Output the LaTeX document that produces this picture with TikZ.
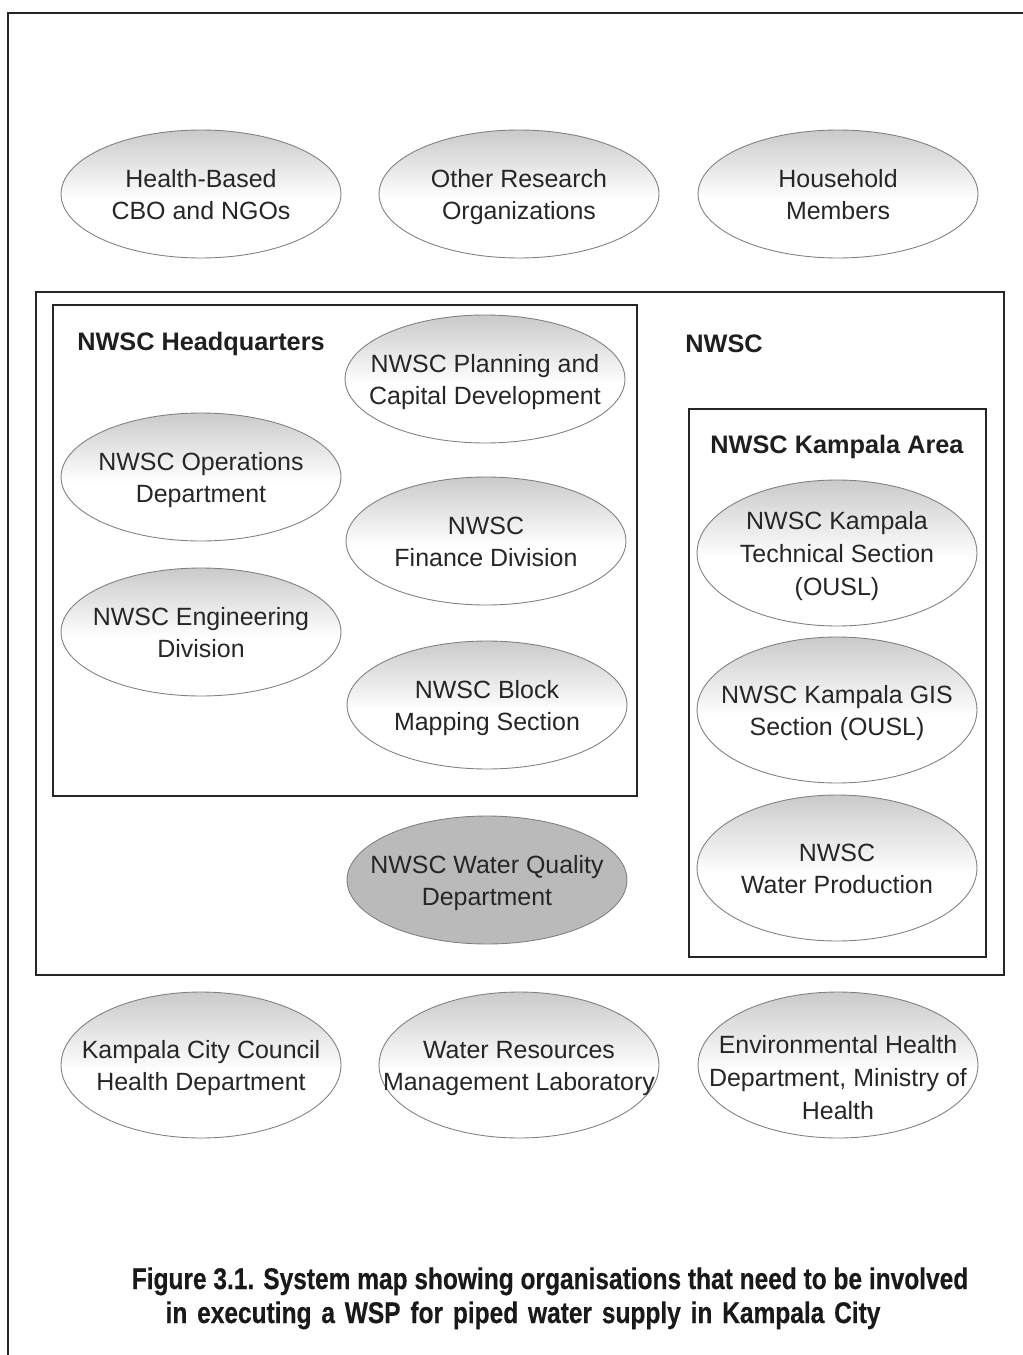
\documentclass[tikz,border=0pt]{standalone}
\usepackage{fontspec}
\setmainfont{Liberation Sans}
\newfontfamily\capfont[FakeStretch=0.82,FakeBold=0.4]{Liberation Sans}
\usetikzlibrary{shapes.geometric}
\pgfdeclareverticalshading{ovalshade}{100bp}{color(0bp)=(white); color(48bp)=(white); color(100bp)=(black!40)}
% text of fixed width, so that wide lines do not widen the oval
\newcommand\orgtext[1]{\makebox[0pt]{\raisebox{-1.7pt}[\height][\depth]{\begin{tabular}{@{}c@{}}#1\end{tabular}}}}
\tikzset{
	ovalbase/.style={ellipse,draw=black!50,line width=0.5pt,minimum width=5.6cm,minimum height=2.56cm,inner sep=0pt,font=\fontsize{14.2}{18.6}\selectfont,text=black!85},
	oval/.style={ovalbase,shading=ovalshade},
	tall/.style={minimum height=2.92cm},
	box/.style={draw=black!85,line width=1.1pt},
	head/.style={font=\fontsize{14.4}{18}\selectfont\bfseries,text=black!88},
	caption/.style={anchor=base,font=\capfont\fontsize{17}{19.3}\selectfont\bfseries,text=black!90},
}
\begin{document}
\begin{tikzpicture}[x=0.02cm,y=-0.02cm]
		\useasboundingbox (0,0) rectangle (1023,1355);
		\draw [line width=1.7pt,black!85] (8,1355) |- (1023,13);
		\draw [box] (36,292) rectangle (1004,975);
		\draw [box] (53,305) rectangle (637,796);
		\draw [box] (689,409) rectangle (986,957);
		\node[head] (hq) at (201,344) {NWSC Headquarters};
		\node[head] (nwsc) at (724,344) {NWSC};
		\node[head] (ka) at (837,447) {NWSC Kampala Area};
		%outside organisations
		\node[oval] (cbo) at (201,194) {\orgtext{Health-Based\\CBO and NGOs}};
		\node[oval] (ro) at (519,194) {\orgtext{Other Research\\Organizations}};
		\node[oval] (hm) at (838,194) {\orgtext{Household\\Members}};
		%headquarters
		\node[oval] (pcd) at (485,379) {\orgtext{NWSC Planning and\\Capital Development}};
		\node[oval] (ops) at (201,477) {\orgtext{NWSC Operations\\Department}};
		\node[oval] (fin) at (486,541) {\orgtext{NWSC\\Finance Division}};
		\node[oval] (eng) at (201,632) {\orgtext{NWSC Engineering\\Division}};
		\node[oval] (bms) at (487,705) {\orgtext{NWSC Block\\Mapping Section}};
		\node[ovalbase,fill=black!27] (wqd) at (487,880) {\orgtext{NWSC Water Quality\\Department}};
		%kampala area
		\node[oval,tall] (tech) at (837,553) {\orgtext{NWSC Kampala\\Technical Section\\(OUSL)}};
		\node[oval,tall] (gis) at (837,710) {\orgtext{NWSC Kampala GIS\\Section (OUSL)}};
		\node[oval,tall] (wp) at (837,868) {\orgtext{NWSC\\Water Production}};
		\node[oval,tall] (kcc) at (201,1065) {\orgtext{Kampala City Council\\Health Department}};
		\node[oval,tall] (wrm) at (519,1065) {\orgtext{Water Resources\\Management Laboratory}};
		\node[oval,tall] (ehd) at (838,1065) {};
		\node[font=\fontsize{14.2}{18.6}\selectfont,text=black!85,inner sep=0pt] (ehdt) at (838,1077) {\orgtext{Environmental Health\\Department, Ministry of\\Health}};
		\node[caption] (cap1) at (550,1289) {Figure 3.1. System map showing organisations that need to be involved};
		\node[caption] (cap2) at (523,1323) {\makebox[14.3cm][s]{in executing a WSP for piped water supply in Kampala City}};
	\end{tikzpicture}
\end{document}
